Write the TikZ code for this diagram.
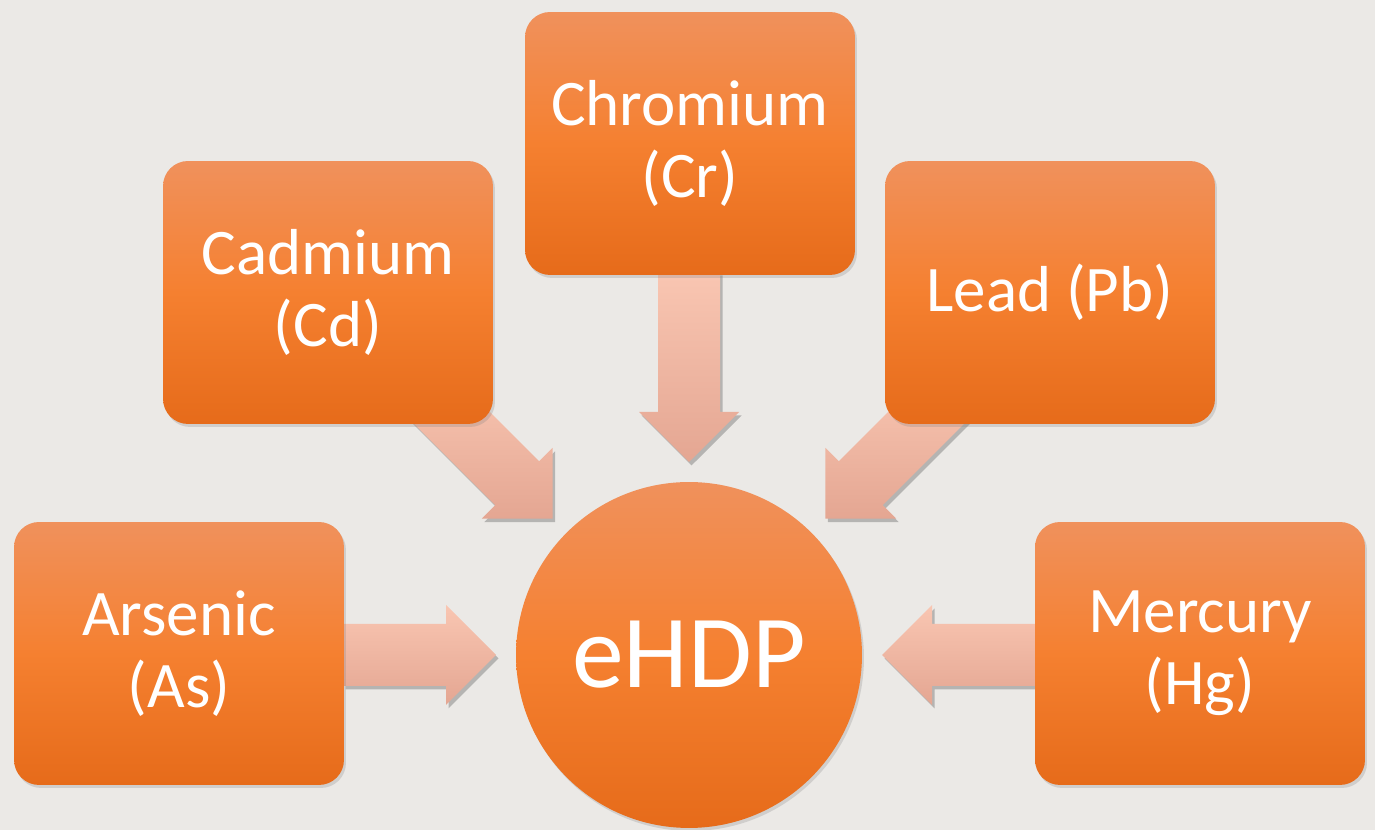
\documentclass[tikz,border=0pt]{standalone}
\usepackage{fontspec}
\setmainfont{Carlito}
\usepackage{tikz}
\usetikzlibrary{shadows, calc}
\definecolor{hmbg}{RGB}{235,233,230}
\definecolor{hmtop}{RGB}{240,145,92}
\definecolor{hmmid}{RGB}{245,128,48}
\definecolor{hmbot}{RGB}{230,107,26}
\definecolor{hmarrowtop}{RGB}{249,198,178}
\definecolor{hmarrowbot}{RGB}{228,166,146}
\pgfdeclarelayer{back}
\pgfdeclarelayer{arrowlayer}
\pgfsetlayers{back,arrowlayer,main}
\tikzset{
  metalbox/.style={rectangle, rounded corners=0.5cm, top color=hmtop,
                   bottom color=hmbot, middle color=hmmid,
                   minimum width=6.6cm, minimum height=5.26cm, align=center,
                   text=white, font=\fontsize{37}{41}\selectfont,
                   drop shadow={shadow xshift=0.04cm, shadow yshift=-0.06cm, opacity=0.25}},
  hub/.style={circle, top color=hmtop, bottom color=hmbot, middle color=hmmid,
              minimum size=6.92cm, inner sep=0pt, text=white,
              font=\fontsize{59}{60}\selectfont,
              drop shadow={shadow xshift=0.04cm, shadow yshift=-0.06cm, opacity=0.25}},
  flowarrow/.style={top color=hmarrowtop, bottom color=hmarrowbot,
                    drop shadow={shadow xshift=0.05cm, shadow yshift=-0.07cm, opacity=0.5}},
}

\begin{document}
\begin{tikzpicture}[x=0.02cm, y=0.02cm]
  \useasboundingbox (0,0) rectangle (1375,830);
  \begin{pgfonlayer}{back}
    \fill[hmbg] (0,0) rectangle (1375,830);
  \end{pgfonlayer}
  % centre and sources
  \node[hub] (ehdp) at (689,175) {eHDP};
  \node[metalbox] (chromium) at (690,686.5) {Chromium\\(Cr)};
  \node[metalbox] (cadmium) at (328,537.5) {Cadmium\\(Cd)};
  \node[metalbox] (lead) at (1050,537.5) {Lead (Pb)};
  \node[metalbox] (arsenic) at (179,176.5) {Arsenic\\(As)};
  \node[metalbox] (mercury) at (1200,176.5) {Mercury\\(Hg)};
  % block arrows (angle of the tail side / shaft length)
  \begin{pgfonlayer}{arrowlayer}
    \foreach \ang/\len in {90/140, 135/120, 45/120, 180/103, 0/103}{
      \path[flowarrow] ($(ehdp.center)+(\ang:193)$) -- ++(\ang+45:70.7)
        -- ++(\ang-90:19) -- ++(\ang:\len) -- ++(\ang-90:62)
        -- ++(\ang+180:\len) -- ++(\ang-90:19) -- cycle;
    }
  \end{pgfonlayer}
\end{tikzpicture}
\end{document}
